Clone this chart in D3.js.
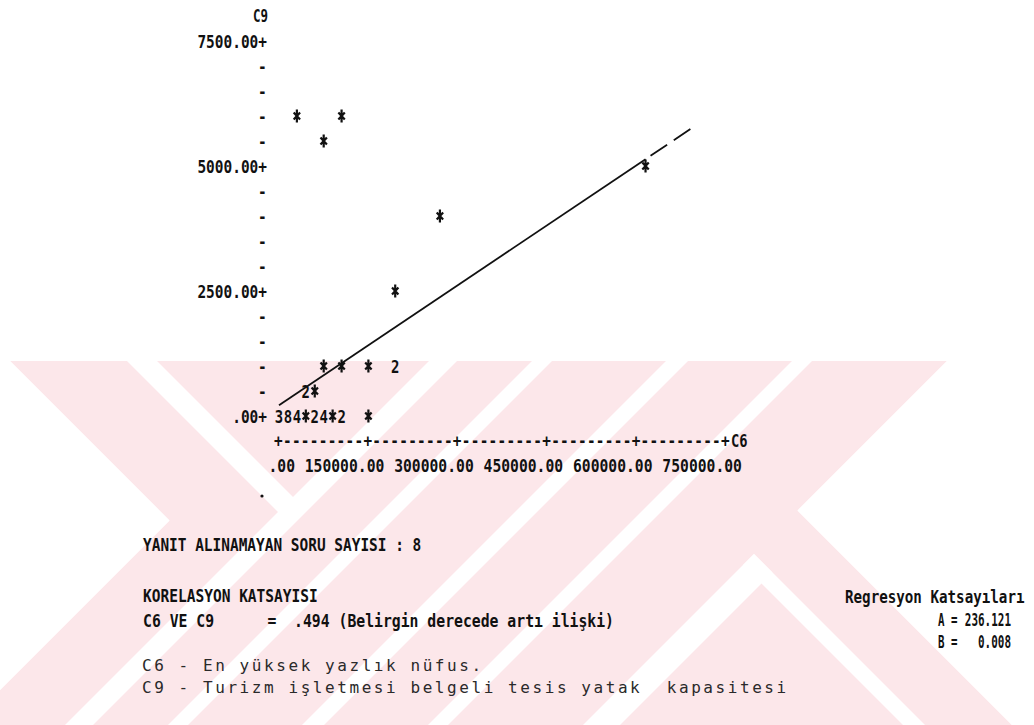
<!DOCTYPE html>
<html>
<head>
<meta charset="utf-8">
<script src="https://cdn.jsdelivr.net/npm/d3@7"></script>
<style>
  body { margin: 0; background: #fff; }
  svg text { font-family: "DejaVu Sans Mono", monospace; white-space: pre; }
</style>
</head>
<body>
<div id="chart"></div>
<script>
// =============================================================
// DATA

// cells of the printer plot: C6 value, C9 value, number of cases (1 = '*')
let c6_values   = [0, 15000, 30000, 45000, 60000, 75000, 90000, 105000, 150000,
                   45000, 60000,
                   75000, 105000, 150000, 195000,
                   195000, 270000, 615000, 75000, 30000, 105000];
let c9_values   = [0, 0, 0, 0, 0, 0, 0, 0, 0,
                   500, 500,
                   1000, 1000, 1000, 1000,
                   2500, 4000, 5000, 5500, 6000, 6000];
let cell_counts = [3, 8, 4, 1, 2, 4, 1, 2, 1,
                   2, 1,
                   1, 1, 1, 2,
                   1, 1, 1, 1, 1, 1];

let x_ticks = [0, 150000, 300000, 450000, 600000, 750000];
let y_ticks = [0, 2500, 5000, 7500];
let y_minor = [500, 1000, 1500, 2000, 3000, 3500, 4000, 4500, 5500, 6000, 6500, 7000];

// regression C9 = A + B * C6
let reg_a = 236.121;
let reg_b = 0.008;
let reg_solid  = [0, 615000];
let reg_dashed = [615000, 700000];

let missing_line = 'YANIT ALINAMAYAN SORU SAYISI : 8';
let corr_title   = 'KORELASYON KATSAYISI';
let corr_line    = 'C6 VE C9      =  .494 (Belirgin derecede artı ilişki)';
let note_lines   = ['C6 - En yüksek yazlık nüfus.',
                    'C9 - Turizm işletmesi belgeli tesis yatak  kapasitesi'];
let reg_title    = 'Regresyon Katsayıları';
let reg_labels   = ['A =', 'B ='];
let reg_values   = ['236.121', '0.008'];

// =============================================================
// SUPPORT FUNCTIONS

function uv(u, v) {
// point where the lines x+y=u and x-y=v cross
    return [(u + v) / 2, (u - v) / 2];
}

function polyPath(pts) {
    return 'M' + pts.map(p => p[0] + ',' + p[1]).join('L') + 'Z';
}

function slashBand(u0, u1, ytop, ybot) {
    return [[u0 - ytop, ytop], [u1 - ytop, ytop], [u1 - ybot, ybot], [u0 - ybot, ybot]];
}

let cap_size = 17;   // glyph height of the printer font, as a font size

function printText(g, str, x, y, pitch) {
// condensed line printer text: font size gives the char pitch,
// a vertical stretch gives back the tall glyphs
    let fs = pitch / 0.602;
    return g.append('text')
            .attr('transform', 'translate(' + x + ',' + y + ')scale(1,' + (cap_size / fs).toFixed(3) + ')')
            .attr('font-size', fs.toFixed(2))
            .attr('font-weight', 'bold')
            .attr('fill', '#111')
            .text(str);
}

function printRight(g, str, x_end, y, pitch) {
    return printText(g, str, x_end - str.length * pitch, y, pitch);
}

// printer asterisk, a tall narrow star
let star = {
    draw: function(ctx) {
        ctx.moveTo(0, -6.5); ctx.lineTo(0, 6.5);
        ctx.moveTo(-3.2, -3.5); ctx.lineTo(3.2, 3.5);
        ctx.moveTo(-3.2, 3.5); ctx.lineTo(3.2, -3.5);
    }
};

// =============================================================
// MAIN

let width = 1034, height = 725;
let svg = d3.select('#chart').append('svg')
            .attr('width', width)
            .attr('height', height);

// ---- pink watermark behind the page
let pink = '#fce7ea';
let outer = [[10, 361], [947, 361], uv(1308, 287), [1012, 725], [0, 725], [0, 690], uv(690, -351)];
svg.append('clipPath').attr('id', 'wm')
   .append('path').attr('d', polyPath(outer));

let wm = svg.append('g').attr('clip-path', 'url(#wm)');
wm.append('path').attr('d', polyPath(outer)).attr('fill', pink);

let white_bands = [
    [[127, 361], [157, 361], uv(804, -204), uv(804, -234)],     // left "\" band
    slashBand(790, 818, 361, 725),
    slashBand(893, 913, 361, 725),
    slashBand(1027, 1049, 361, 725),
    slashBand(1153, 1173, 361, 725),
    [uv(1308, 200), uv(1345, 200), [620, 725], [583, 725]],     // lower "/" arm
    [uv(1308, 200), [925, 725], [903, 725], uv(1308, 178)]      // lower "\" arm
];
wm.selectAll('path.band')
  .data(white_bands)
  .enter()
  .append('path')
  .attr('class', 'band')
  .attr('d', d => polyPath(d))
  .attr('fill', '#fff');

// ---- scales
let x_scale = d3.scaleLinear().domain([0, 750000]).range([279, 726]);
let y_scale = d3.scaleLinear().domain([0, 7500]).range([417, 42]);
let col_w = x_scale(15000) - x_scale(0);    // one printer column
let axis_col = 262;      // column of the y axis '+' and '-'
let x_axis_y = 441;

let plot = svg.append('g');

// y axis title
printRight(plot, 'C9', 268, 22, 7.5);

// y axis labels
let fmt = d3.format('.2f');
y_ticks.forEach(function(v) {
    let s = (v === 0 ? '.00' : fmt(v)) + '+';
    printRight(plot, s, 267, y_scale(v) + 6, 8.7);
});
y_minor.forEach(function(v) {
    printText(plot, '-', axis_col - 4, y_scale(v) + 6, 8.7);
});

// x axis built from '+' and '-'
let cols = d3.range(0, 750001, 15000);
cols.forEach(function(v) {
    printText(plot, x_ticks.indexOf(v) >= 0 ? '+' : '-', x_scale(v) - col_w / 2 - 0.5, x_axis_y + 6, col_w - 0.3);
});
printText(plot, 'C6', x_scale(750000) + col_w / 2 + 0.5, x_axis_y + 6, 8.3);

x_ticks.forEach(function(v) {
    let s = v === 0 ? '.00' : fmt(v);
    printRight(plot, s, x_scale(v) + 16, 472, 8.85);
});

// stray dot under the y axis
plot.append('circle').attr('cx', axis_col).attr('cy', 496).attr('r', 1.6).attr('fill', '#111');

// ---- regression line
let reg_line = d3.line()
                 .x(d => x_scale(d))
                 .y(d => y_scale(reg_a + reg_b * d));
plot.append('path')
    .attr('d', reg_line(reg_solid))
    .attr('fill', 'none')
    .attr('stroke', '#111')
    .attr('stroke-width', 1.8);
plot.append('path')
    .attr('d', reg_line(reg_dashed))
    .attr('fill', 'none')
    .attr('stroke', '#111')
    .attr('stroke-width', 1.8)
    .attr('stroke-dasharray', '20,8')
    .attr('stroke-dashoffset', -6);

// ---- plotted cells: '*' for one case, the count when more
let cells = c6_values.map((d, i) => ({ c6: d, c9: c9_values[i], n: cell_counts[i] }));
let singles = cells.filter(d => d.n === 1);
let multis  = cells.filter(d => d.n > 1);

plot.selectAll('path.star')
    .data(singles)
    .enter()
    .append('path')
    .attr('class', 'star')
    .attr('d', d3.symbol().type(star))
    .attr('transform', d => 'translate(' + x_scale(d.c6) + ',' + (y_scale(d.c9) - 1) + ')')
    .attr('fill', 'none')
    .attr('stroke', '#111')
    .attr('stroke-width', 2.2);

multis.forEach(function(d) {
    printText(plot, String(d.n), x_scale(d.c6) - 4.2, y_scale(d.c9) + 6, 8.4);
});

// ---- text block under the plot
let notes = svg.append('g');
printText(notes, missing_line, 143, 551, 8.7);
printText(notes, corr_title, 143, 602, 8.75);
printText(notes, corr_line, 143, 627, 8.9);

note_lines.forEach(function(s, i) {
    notes.append('text')
         .attr('x', 142)
         .attr('y', 671 + i * 22)
         .attr('font-size', 16)
         .attr('letter-spacing', 2.57)
         .attr('fill', '#2a2a2a')
         .text(s);
});

printText(notes, reg_title, 845, 603, 8.55);
reg_labels.forEach(function(s, i) {
    printText(notes, s, 938, 626 + i * 22, 6.5);
    printRight(notes, reg_values[i], 1011, 626 + i * 22, 6.6);
});
</script>
</body>
</html>
